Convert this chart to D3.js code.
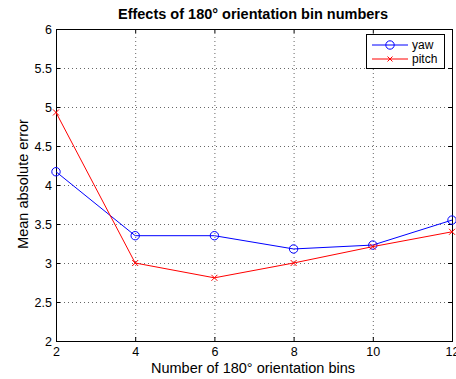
<!DOCTYPE html>
<html>
<head>
<meta charset="utf-8">
<script src="https://cdn.jsdelivr.net/npm/d3@7"></script>
<style>
  html, body { margin: 0; padding: 0; background: #fff; }
  svg { display: block; font-family: "Liberation Sans", Arial, sans-serif; }
</style>
</head>
<body>
<svg id="chart" width="456" height="379"></svg>
<script>
// Orientation bin counts and mean absolute errors
const bins = [2, 4, 6, 8, 10, 12];
const yawError = [4.17, 3.35, 3.35, 3.18, 3.23, 3.55];
const pitchError = [4.93, 3.0, 2.81, 3.0, 3.21, 3.40];
const xTicks = [2, 4, 6, 8, 10, 12];
const yTicks = [2, 2.5, 3, 3.5, 4, 4.5, 5, 5.5, 6];

(function () {
const svg = d3.select("#chart");
const pLeft = 56, pRight = 452, pTop = 29, pBottom = 341;

const x = d3.scaleLinear().domain([2, 12]).range([pLeft, pRight]);
const y = d3.scaleLinear().domain([2, 6]).range([pBottom, pTop]);

// dotted grid
const grid = svg.append("g").attr("stroke", "#555").attr("stroke-width", 0.9)
  .attr("stroke-dasharray", "1,3");
grid.selectAll(".gx").data(xTicks.slice(1, -1)).join("line")
  .attr("x1", d => x(d) + 0.5).attr("x2", d => x(d) + 0.5)
  .attr("y1", pTop).attr("y2", pBottom);
grid.selectAll(".gy").data(yTicks.slice(1, -1)).join("line")
  .attr("y1", d => y(d) + 0.5).attr("y2", d => y(d) + 0.5)
  .attr("x1", pLeft).attr("x2", pRight);

// axes with inward ticks on all four sides
const tickLen = 4;
const fmt = d => String(d);
const axB = svg.append("g").attr("transform", `translate(0,${pBottom})`)
  .call(d3.axisBottom(x).tickValues(xTicks).tickFormat(fmt).tickSizeInner(-tickLen).tickSizeOuter(0).tickPadding(6));
const axT = svg.append("g").attr("transform", `translate(0,${pTop})`)
  .call(d3.axisTop(x).tickValues(xTicks).tickSizeInner(-tickLen).tickSizeOuter(0).tickFormat(""));
const axL = svg.append("g").attr("transform", `translate(${pLeft},0)`)
  .call(d3.axisLeft(y).tickValues(yTicks).tickFormat(fmt).tickSizeInner(-tickLen).tickSizeOuter(0).tickPadding(4));
const axR = svg.append("g").attr("transform", `translate(${pRight},0)`)
  .call(d3.axisRight(y).tickValues(yTicks).tickSizeInner(-tickLen).tickSizeOuter(0).tickFormat(""));

[axB, axT, axL, axR].forEach(a => {
  a.select(".domain").remove();
  a.selectAll("line").attr("stroke", "#000");
  a.selectAll("text").attr("font-size", 12.5).attr("fill", "#000")
    .attr("font-family", "Liberation Sans, Arial, sans-serif");
});

// plot box
svg.append("rect").attr("x", pLeft + 0.5).attr("y", pTop + 0.5)
  .attr("width", pRight - pLeft).attr("height", pBottom - pTop)
  .attr("fill", "none").attr("stroke", "#000").attr("stroke-width", 1);

// series
const line = d3.line().x((d, i) => x(bins[i])).y(d => y(d));

svg.append("path").datum(yawError).attr("d", line)
  .attr("fill", "none").attr("stroke", "#0000ff").attr("stroke-width", 1);
svg.append("g").selectAll("circle").data(yawError).join("circle")
  .attr("cx", (d, i) => x(bins[i])).attr("cy", d => y(d)).attr("r", 4.2)
  .attr("fill", "none").attr("stroke", "#0000ff").attr("stroke-width", 1);

svg.append("path").datum(pitchError).attr("d", line)
  .attr("fill", "none").attr("stroke", "#ff0000").attr("stroke-width", 1);
const cross = (g, cx, cy, s) => {
  g.append("line").attr("x1", cx - s).attr("y1", cy - s).attr("x2", cx + s).attr("y2", cy + s);
  g.append("line").attr("x1", cx - s).attr("y1", cy + s).attr("x2", cx + s).attr("y2", cy - s);
};
const crosses = svg.append("g").attr("stroke", "#ff0000").attr("stroke-width", 1);
pitchError.forEach((d, i) => cross(crosses, x(bins[i]), y(d), 3));

// legend
const lg = svg.append("g");
lg.append("rect").attr("x", 366.5).attr("y", 34.5).attr("width", 78).attr("height", 34)
  .attr("fill", "#fff").attr("stroke", "#000").attr("stroke-width", 1);
lg.append("line").attr("x1", 372).attr("x2", 408).attr("y1", 45).attr("y2", 45)
  .attr("stroke", "#0000ff");
lg.append("circle").attr("cx", 390).attr("cy", 45).attr("r", 4.2)
  .attr("fill", "none").attr("stroke", "#0000ff");
lg.append("line").attr("x1", 372).attr("x2", 408).attr("y1", 59).attr("y2", 59)
  .attr("stroke", "#ff0000");
const lc = lg.append("g").attr("stroke", "#ff0000");
cross(lc, 390, 59, 2.5);
lg.append("text").attr("x", 412).attr("y", 49).text("yaw").attr("font-size", 12);
lg.append("text").attr("x", 412).attr("y", 63).text("pitch").attr("font-size", 12);

// titles
svg.append("text").attr("x", 253).attr("y", 19)
  .attr("text-anchor", "middle").attr("font-weight", "bold").attr("font-size", 14.5)
  .text("Effects of 180° orientation bin numbers");
svg.append("text").attr("x", 253).attr("y", 373)
  .attr("text-anchor", "middle").attr("font-size", 14.5)
  .text("Number of 180° orientation bins");
svg.append("text").attr("transform", `translate(28,184) rotate(-90)`)
  .attr("text-anchor", "middle").attr("font-size", 14.5)
  .text("Mean absolute error");
})();
</script>
</body>
</html>
